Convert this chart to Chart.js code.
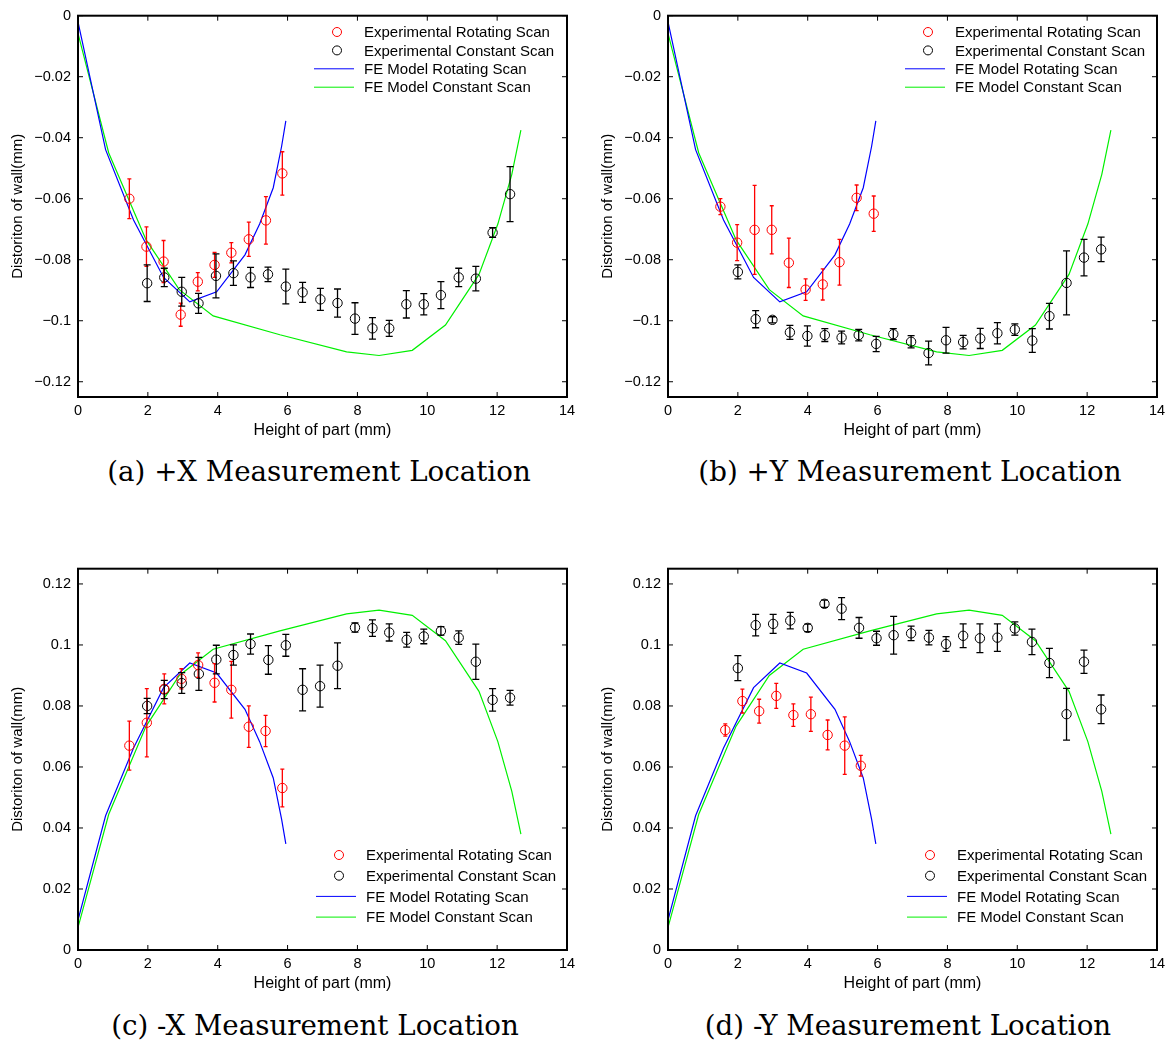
<!DOCTYPE html>
<html>
<head>
<meta charset="utf-8">
<script src="https://cdn.jsdelivr.net/npm/chart.js@4"></script>
<style>
  body { margin: 0; background: #fff; width: 1171px; height: 1044px; position: relative; overflow: hidden; }
  canvas { position: absolute; }
  .cap { position: absolute; width: 560px; text-align: center; font-family: "DejaVu Serif", serif; font-size: 27.7px; line-height: 32px; color: #000; white-space: nowrap; }
</style>
</head>
<body>
<canvas id="chartA" width="590" height="450" style="left:0;top:0"></canvas>
<canvas id="chartB" width="590" height="450" style="left:590px;top:0"></canvas>
<canvas id="chartC" width="590" height="450" style="left:0;top:553px"></canvas>
<canvas id="chartD" width="590" height="450" style="left:590px;top:553px"></canvas>
<div class="cap" style="left:39px;top:456px">(a) +X Measurement Location</div>
<div class="cap" style="left:630px;top:456px">(b) +Y Measurement Location</div>
<div class="cap" style="left:35px;top:1010px">(c) -X Measurement Location</div>
<div class="cap" style="left:628px;top:1010px">(d) -Y Measurement Location</div>
<script>
// (a) +X
const xRotA = [1.47, 1.96, 2.45, 2.94, 3.43, 3.91, 4.39, 4.89, 5.38, 5.85];
const rotA = [-0.0600, -0.0757, -0.0806, -0.0980, -0.0872, -0.0817, -0.0777, -0.0733, -0.0671, -0.0517];
const rotErrA = [0.0065, 0.0065, 0.0069, 0.0038, 0.0030, 0.0041, 0.0033, 0.0056, 0.0078, 0.0071];
const xConA = [1.98, 2.47, 2.97, 3.45, 3.95, 4.45, 4.94, 5.44, 5.95, 6.43, 6.94, 7.43, 7.93, 8.43, 8.91, 9.40, 9.90, 10.39, 10.90, 11.39, 11.87, 12.37];
const conA = [-0.0877, -0.0858, -0.0905, -0.0943, -0.0853, -0.0844, -0.0858, -0.0848, -0.0888, -0.0907, -0.0930, -0.0942, -0.0993, -0.1025, -0.1025, -0.0946, -0.0946, -0.0916, -0.0858, -0.0862, -0.0711, -0.0585];
const conErrA = [0.0060, 0.0030, 0.0047, 0.0033, 0.0072, 0.0040, 0.0033, 0.0024, 0.0057, 0.0033, 0.0036, 0.0046, 0.0052, 0.0035, 0.0026, 0.0045, 0.0035, 0.0044, 0.0030, 0.0040, 0.0016, 0.0090];

// (b) +Y
const xRotB = [1.50, 1.98, 2.48, 2.97, 3.46, 3.94, 4.43, 4.91, 5.40, 5.89];
const rotB = [-0.0626, -0.0744, -0.0702, -0.0702, -0.0810, -0.0898, -0.0881, -0.0808, -0.0597, -0.0649];
const rotErrB = [0.0026, 0.0059, 0.0146, 0.0079, 0.0081, 0.0035, 0.0051, 0.0075, 0.0042, 0.0058];
const xConB = [2.00, 2.51, 2.99, 3.49, 3.99, 4.49, 4.97, 5.46, 5.96, 6.45, 6.96, 7.46, 7.96, 8.45, 8.94, 9.43, 9.93, 10.43, 10.92, 11.41, 11.91, 12.40];
const conB = [-0.0840, -0.0995, -0.0997, -0.1038, -0.1050, -0.1047, -0.1055, -0.1047, -0.1076, -0.1044, -0.1069, -0.1106, -0.1064, -0.1070, -0.1058, -0.1041, -0.1029, -0.1065, -0.0985, -0.0876, -0.0793, -0.0766];
const conErrB = [0.0023, 0.0028, 0.0010, 0.0023, 0.0033, 0.0021, 0.0021, 0.0019, 0.0025, 0.0018, 0.0020, 0.0039, 0.0042, 0.0022, 0.0033, 0.0035, 0.0019, 0.0039, 0.0042, 0.0105, 0.0060, 0.0040];

// (c) -X
const xRotC = [1.47, 1.97, 2.47, 2.96, 3.44, 3.91, 4.39, 4.89, 5.37, 5.85];
const rotC = [0.0670, 0.0745, 0.0856, 0.0889, 0.0934, 0.0876, 0.0853, 0.0732, 0.0718, 0.0531];
const rotErrC = [0.0080, 0.0112, 0.0049, 0.0033, 0.0040, 0.0063, 0.0093, 0.0068, 0.0051, 0.0062];
const xConC = [1.98, 2.47, 2.97, 3.46, 3.96, 4.45, 4.94, 5.45, 5.95, 6.43, 6.93, 7.43, 7.93, 8.43, 8.91, 9.41, 9.90, 10.39, 10.90, 11.39, 11.87, 12.37];
const conC = [0.0800, 0.0854, 0.0875, 0.0905, 0.0952, 0.0967, 0.1003, 0.0951, 0.0999, 0.0853, 0.0865, 0.0932, 0.1057, 0.1055, 0.1041, 0.1017, 0.1028, 0.1046, 0.1024, 0.0945, 0.0820, 0.0827];
const conErrC = [0.0025, 0.0030, 0.0034, 0.0054, 0.0047, 0.0033, 0.0033, 0.0047, 0.0036, 0.0069, 0.0069, 0.0075, 0.0015, 0.0027, 0.0028, 0.0024, 0.0024, 0.0014, 0.0022, 0.0058, 0.0037, 0.0024];

// (d) -Y
const xRotD = [1.64, 2.13, 2.61, 3.10, 3.59, 4.09, 4.57, 5.06, 5.52];
const rotD = [0.0721, 0.0816, 0.0783, 0.0833, 0.0770, 0.0773, 0.0705, 0.0670, 0.0604];
const rotErrD = [0.0020, 0.0039, 0.0039, 0.0041, 0.0037, 0.0056, 0.0049, 0.0094, 0.0034];
const xConD = [2.00, 2.51, 3.01, 3.50, 4.00, 4.48, 4.97, 5.47, 5.97, 6.46, 6.96, 7.47, 7.96, 8.45, 8.93, 9.43, 9.93, 10.42, 10.92, 11.41, 11.91, 12.40];
const conD = [0.0924, 0.1065, 0.1069, 0.1080, 0.1056, 0.1135, 0.1119, 0.1056, 0.1022, 0.1032, 0.1038, 0.1024, 0.1003, 0.1030, 0.1022, 0.1024, 0.1054, 0.1010, 0.0941, 0.0773, 0.0945, 0.0789];
const conErrD = [0.0041, 0.0035, 0.0031, 0.0027, 0.0012, 0.0012, 0.0036, 0.0034, 0.0023, 0.0062, 0.0024, 0.0024, 0.0024, 0.0039, 0.0047, 0.0045, 0.0022, 0.0042, 0.0048, 0.0085, 0.0038, 0.0047];

// FE model curves (+ side negative, - side positive)
const feRotX = [0, 0.79, 1.59, 2.45, 3.20, 3.97, 4.78, 5.20, 5.59, 5.83, 5.95];
const feRotPos = [-0.0020, -0.0439, -0.0670, -0.0858, -0.0938, -0.0905, -0.0784, -0.0683, -0.0564, -0.0428, -0.0345];
const feRotNeg = [0.0098, 0.0440, 0.0662, 0.0860, 0.0941, 0.0908, 0.0789, 0.0683, 0.0564, 0.0428, 0.0348];
const feConXPos = [0, 0.88, 1.95, 2.90, 3.87, 5.78, 7.69, 8.62, 9.57, 10.52, 11.48, 12.02, 12.42, 12.68];
const feConPos = [-0.0058, -0.0450, -0.0735, -0.0898, -0.0984, -0.1046, -0.1102, -0.1114, -0.1097, -0.1014, -0.0848, -0.0683, -0.0520, -0.0375];
const feConXNeg = [0, 0, 0.88, 1.95, 2.90, 3.87, 5.78, 7.69, 8.62, 9.57, 10.52, 11.48, 12.02, 12.42, 12.68];
const feConNeg = [0, 0.0074, 0.0445, 0.0734, 0.0900, 0.0986, 0.1046, 0.1102, 0.1114, 0.1097, 0.1014, 0.0848, 0.0683, 0.0520, 0.0380];

const xTicksMax = 14;
const labels = ["Experimental Rotating Scan", "Experimental Constant Scan", "FE Model Rotating Scan", "FE Model Constant Scan"];
const sans = '"Liberation Sans", Arial, sans-serif';

function pts(xs, ys) {
    return xs.map((x, i) => ({ x: x, y: ys[i] }));
}

function fmtTick(v) {
    const s = String(Math.round(v * 100) / 100);
    return s.replace("-", "\u2212");
}

// error bars drawn through the chart scales
const errorBars = {
    id: "errorBars",
    afterDatasetsDraw(chart) {
        const ctx = chart.ctx;
        const xs = chart.scales.x, ys = chart.scales.y;
        chart.data.datasets.forEach(ds => {
            if (!ds.errors) return;
            ctx.save();
            ctx.strokeStyle = ds.borderColor;
            ctx.lineWidth = 1.3;
            ds.data.forEach((p, j) => {
                const e = ds.errors[j];
                const px = xs.getPixelForValue(p.x);
                const top = ys.getPixelForValue(p.y + e);
                const bot = ys.getPixelForValue(p.y - e);
                const c = ds.capWidth;
                ctx.beginPath();
                ctx.moveTo(px, top); ctx.lineTo(px, bot);
                ctx.moveTo(px - c, top); ctx.lineTo(px + c, top);
                ctx.moveTo(px - c, bot); ctx.lineTo(px + c, bot);
                ctx.stroke();
            });
            ctx.restore();
        });
    }
};

// MATLAB style box with inward ticks
const boxFrame = {
    id: "boxFrame",
    afterDatasetsDraw(chart) {
        const ctx = chart.ctx;
        const a = chart.chartArea;
        const xs = chart.scales.x, ys = chart.scales.y;
        ctx.save();
        ctx.strokeStyle = "#000";
        ctx.lineWidth = 1;
        ctx.beginPath();
        xs.ticks.forEach(t => {
            const px = xs.getPixelForValue(t.value);
            ctx.moveTo(px, a.bottom); ctx.lineTo(px, a.bottom - 5);
            ctx.moveTo(px, a.top); ctx.lineTo(px, a.top + 5);
        });
        ys.ticks.forEach(t => {
            const py = ys.getPixelForValue(t.value);
            ctx.moveTo(a.left, py); ctx.lineTo(a.left + 5, py);
            ctx.moveTo(a.right, py); ctx.lineTo(a.right - 5, py);
        });
        ctx.stroke();
        ctx.lineWidth = 2;
        ctx.strokeRect(a.left, a.top, a.right - a.left, a.bottom - a.top);
        ctx.restore();
    }
};

const legendBox = {
    id: "legendBox",
    afterDraw(chart, args, opts) {
        const ctx = chart.ctx;
        ctx.save();
        ctx.font = "15px " + sans;
        ctx.textBaseline = "middle";
        ctx.textAlign = "left";
        chart.data.datasets.forEach((ds, i) => {
            const y = opts.top + i * opts.row;
            ctx.strokeStyle = ds.borderColor;
            ctx.lineWidth = 1;
            ctx.beginPath();
            if (ds.showLine === false) {
                ctx.arc(opts.symX, y, 4.5, 0, Math.PI * 2);
            } else {
                ctx.moveTo(opts.symX - 23, y);
                ctx.lineTo(opts.symX + 17, y);
            }
            ctx.stroke();
            ctx.fillStyle = "#000";
            ctx.fillText(ds.label, opts.textX, y + 1);
        });
        ctx.restore();
    }
};

function makeChart(id, p) {
    const canvas = document.getElementById(id);
    return new Chart(canvas, {
        type: "scatter",
        data: {
            datasets: [
                {
                    label: labels[0],
                    data: pts(p.xRot, p.rot),
                    errors: p.rotErr,
                    capWidth: 2,
                    showLine: false,
                    borderColor: "#ff0000",
                    backgroundColor: "rgba(0,0,0,0)",
                    pointRadius: 4.7,
                    borderWidth: 1
                },
                {
                    label: labels[1],
                    data: pts(p.xCon, p.con),
                    errors: p.conErr,
                    capWidth: 3.5,
                    showLine: false,
                    borderColor: "#000000",
                    backgroundColor: "rgba(0,0,0,0)",
                    pointRadius: 4.7,
                    borderWidth: 1
                },
                {
                    label: labels[2],
                    data: pts(feRotX, p.feRot),
                    showLine: true,
                    borderColor: "#0000ff",
                    borderWidth: 1.2,
                    pointRadius: 0,
                    tension: 0
                },
                {
                    label: labels[3],
                    data: pts(p.feConX, p.feCon),
                    showLine: true,
                    borderColor: "#00f000",
                    borderWidth: 1.2,
                    pointRadius: 0,
                    tension: 0
                }
            ]
        },
        options: {
            responsive: false,
            animation: false,
            devicePixelRatio: 1,
            layout: { padding: { left: 0, right: 23, top: 14, bottom: 0 } },
            scales: {
                x: {
                    type: "linear",
                    min: 0,
                    max: xTicksMax,
                    afterFit: s => { s.height = 53; },
                    border: { display: false },
                    grid: { display: false, drawTicks: false },
                    ticks: {
                        stepSize: 2,
                        padding: 5,
                        color: "#000",
                        font: { family: sans, size: 14.5 }
                    },
                    title: {
                        display: true,
                        text: "Height of part (mm)",
                        color: "#000",
                        padding: { top: 0, bottom: 10 },
                        font: { family: sans, size: 16 }
                    }
                },
                y: {
                    type: "linear",
                    min: p.yMin,
                    max: p.yMax,
                    afterFit: s => { s.width = 78; },
                    border: { display: false },
                    grid: { display: false, drawTicks: false },
                    ticks: {
                        stepSize: 0.02,
                        includeBounds: false,
                        padding: 7,
                        color: "#000",
                        callback: fmtTick,
                        font: { family: sans, size: 14.5 }
                    },
                    title: {
                        display: true,
                        text: "Distoriton of wall(mm)",
                        color: "#000",
                        padding: { top: 9, bottom: 0 },
                        font: { family: sans, size: 15 }
                    }
                }
            },
            plugins: {
                legend: { display: false },
                tooltip: { enabled: false },
                legendBox: p.legend
            }
        },
        plugins: [errorBars, boxFrame, legendBox]
    });
}

makeChart("chartA", {
    xRot: xRotA, rot: rotA, rotErr: rotErrA,
    xCon: xConA, con: conA, conErr: conErrA,
    feRot: feRotPos, feConX: feConXPos, feCon: feConPos,
    yMin: -0.125, yMax: 0,
    legend: { top: 32, row: 18.4, symX: 337, textX: 364 }
});
makeChart("chartB", {
    xRot: xRotB, rot: rotB, rotErr: rotErrB,
    xCon: xConB, con: conB, conErr: conErrB,
    feRot: feRotPos, feConX: feConXPos, feCon: feConPos,
    yMin: -0.125, yMax: 0,
    legend: { top: 32, row: 18.4, symX: 338, textX: 365 }
});
makeChart("chartC", {
    xRot: xRotC, rot: rotC, rotErr: rotErrC,
    xCon: xConC, con: conC, conErr: conErrC,
    feRot: feRotNeg, feConX: feConXNeg, feCon: feConNeg,
    yMin: 0, yMax: 0.125,
    legend: { top: 302, row: 20.7, symX: 339, textX: 366 }
});
makeChart("chartD", {
    xRot: xRotD, rot: rotD, rotErr: rotErrD,
    xCon: xConD, con: conD, conErr: conErrD,
    feRot: feRotNeg, feConX: feConXNeg, feCon: feConNeg,
    yMin: 0, yMax: 0.125,
    legend: { top: 302, row: 20.7, symX: 340, textX: 367 }
});
</script>
</body>
</html>
